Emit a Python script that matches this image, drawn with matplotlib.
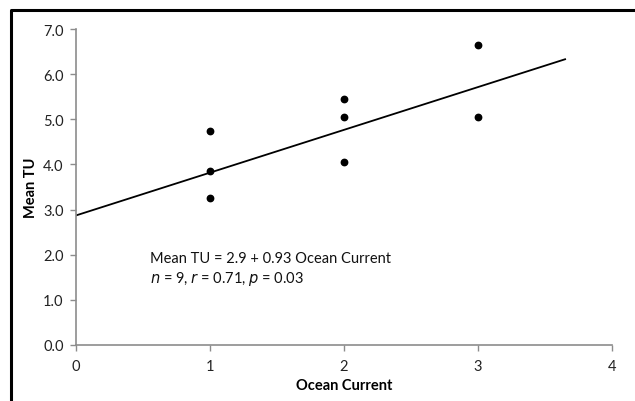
import matplotlib.pyplot as plt
from matplotlib.lines import Line2D

# data
ocean_current = [1, 1, 1, 2, 2, 2, 3, 3]
mean_tu = [4.73, 3.85, 3.25, 5.45, 5.05, 4.05, 6.65, 5.05]

# fitted line end points
fit_x = [0, 3.65]
fit_y = [2.87, 6.33]

x_ticks = [0, 1, 2, 3, 4]
y_ticks = [0.0, 1.0, 2.0, 3.0, 4.0, 5.0, 6.0, 7.0]

plt.rcParams['font.family'] = ['Lato', 'DejaVu Sans']

fig = plt.figure(figsize=(6.35, 4.02), dpi=100)
ax = fig.add_axes([76/635, 1-346/402, (612-76)/635, (346-30)/402])

ax.plot(fit_x, fit_y, color='black', lw=1.3)
ax.plot(ocean_current, mean_tu, linestyle='', marker='o', markersize=4.6, color='black')

ax.set_xlim(0, 4)
ax.set_ylim(0, 7)
ax.set_xticks(x_ticks)
ax.set_yticks(y_ticks)
ax.set_xticklabels([str(t) for t in x_ticks])
ax.set_yticklabels(['%.1f' % t for t in y_ticks])

gray = '#8c8c8c'
for side in ['top', 'right']:
    ax.spines[side].set_visible(False)
for side in ['left', 'bottom']:
    ax.spines[side].set_color(gray)
    ax.spines[side].set_linewidth(1.2)
ax.tick_params(axis='both', colors=gray, labelcolor='#222222', labelsize=10.5, length=4, width=1)
ax.tick_params(axis='x', pad=6)
ax.tick_params(axis='y', pad=5)

ax.set_xlabel('Ocean Current', fontsize=10.5, fontweight='bold')
ax.set_ylabel('Mean TU', fontsize=10.5, fontweight='bold')
ax.xaxis.set_label_coords(0.5, -0.106)
ax.yaxis.set_label_coords(-0.071, 0.5)

ax.text(0.55, 1.84, 'Mean TU = 2.9 + 0.93 Ocean Current', fontsize=10.5, color='#111111')
ax.text(0.55, 1.40, r'$\it{n}$ = 9, $\it{r}$ = 0.71, $\it{p}$ = 0.03', fontsize=10.5, color='#111111')

# cropped black frame (left and top edges visible)
fx = 10.5 / 635
fy = 1 - 10.5 / 402
fig.add_artist(Line2D([fx, fx, 1], [0, fy, fy], transform=fig.transFigure, color='black', lw=2.2))

fig.savefig('out.png', dpi=100)
